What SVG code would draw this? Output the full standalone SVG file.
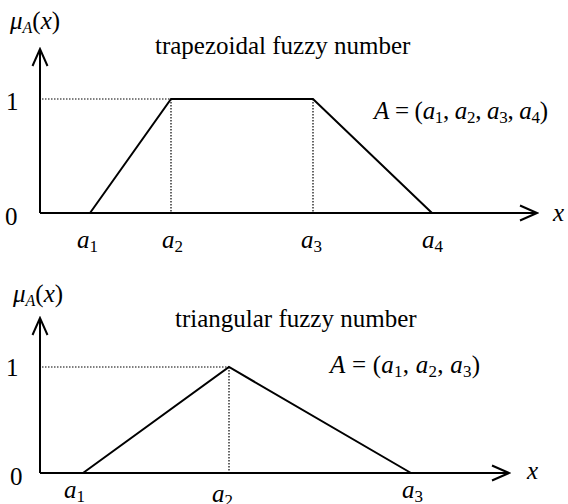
<svg xmlns="http://www.w3.org/2000/svg" width="568" height="504" viewBox="0 0 568 504">
<style>
text{font-family:"Liberation Serif","Times New Roman",serif;font-size:25px;fill:#000}
.i{font-style:italic}
.n{font-style:normal}
.s{font-size:17px;font-style:normal}
.si{font-size:16px;font-style:italic}
.ax{stroke:#000;stroke-width:2;fill:none}
.ln{stroke:#000;stroke-width:2;fill:none}
.dt{stroke:#000;stroke-width:1.2;stroke-dasharray:1.5 1.5;fill:none}
</style>
<defs>
<marker id="ar" viewBox="0 0 20 20" refX="18" refY="10" markerWidth="20" markerHeight="20" markerUnits="userSpaceOnUse" orient="auto">
<path d="M1,2.5 L18,10 L1,17.5" fill="none" stroke="#000" stroke-width="2"/>
</marker>
</defs>
<rect width="568" height="504" fill="#fff"/>
<g id="trapezoid">
<path class="ax" d="M40,213 V49" marker-end="url(#ar)"/>
<path class="ax" d="M40,213 H537" marker-end="url(#ar)"/>
<path class="dt" d="M42,99 H171 M171,99 V212 M313,99 V212"/>
<path class="ln" d="M90,213 L171,99 H313 L432,213"/>
<text x="10" y="29" class="i">μ<tspan class="si" dy="4">A</tspan><tspan class="n" dy="-4">(</tspan>x<tspan class="n">)</tspan></text>
<text x="155" y="54">trapezoidal fuzzy number</text>
<text x="6" y="110">1</text>
<text x="5" y="225">0</text>
<text x="374" y="119" textLength="174" lengthAdjust="spacing"><tspan class="i">A</tspan> = (<tspan class="i">a</tspan><tspan class="s" dy="4">1</tspan><tspan dy="-4">, </tspan><tspan class="i">a</tspan><tspan class="s" dy="4">2</tspan><tspan dy="-4">, </tspan><tspan class="i">a</tspan><tspan class="s" dy="4">3</tspan><tspan dy="-4">, </tspan><tspan class="i">a</tspan><tspan class="s" dy="4">4</tspan><tspan dy="-4">)</tspan></text>
<text x="77" y="248" class="i">a<tspan class="s" dy="4">1</tspan></text>
<text x="162" y="248" class="i">a<tspan class="s" dy="4">2</tspan></text>
<text x="301" y="248" class="i">a<tspan class="s" dy="4">3</tspan></text>
<text x="422" y="248" class="i">a<tspan class="s" dy="4">4</tspan></text>
<text x="553" y="221" class="i">x</text>
</g>
<g id="triangle">
<path class="ax" d="M40,473 V318" marker-end="url(#ar)"/>
<path class="ax" d="M40,473 H509" marker-end="url(#ar)"/>
<path class="dt" d="M42,367 H229 M229,367 V472"/>
<path class="ln" d="M83,473 L229,367 L411,473"/>
<text x="13" y="302" class="i">μ<tspan class="si" dy="4">A</tspan><tspan class="n" dy="-4">(</tspan>x<tspan class="n">)</tspan></text>
<text x="175" y="327">triangular fuzzy number</text>
<text x="6" y="376">1</text>
<text x="10" y="485">0</text>
<text x="330" y="373" textLength="150" lengthAdjust="spacing"><tspan class="i">A</tspan> = (<tspan class="i">a</tspan><tspan class="s" dy="4">1</tspan><tspan dy="-4">, </tspan><tspan class="i">a</tspan><tspan class="s" dy="4">2</tspan><tspan dy="-4">, </tspan><tspan class="i">a</tspan><tspan class="s" dy="4">3</tspan><tspan dy="-4">)</tspan></text>
<text x="64" y="498" class="i">a<tspan class="s" dy="4">1</tspan></text>
<text x="212" y="502" class="i">a<tspan class="s" dy="4">2</tspan></text>
<text x="402" y="498" class="i">a<tspan class="s" dy="4">3</tspan></text>
<text x="527" y="479" class="i">x</text>
</g>
</svg>
